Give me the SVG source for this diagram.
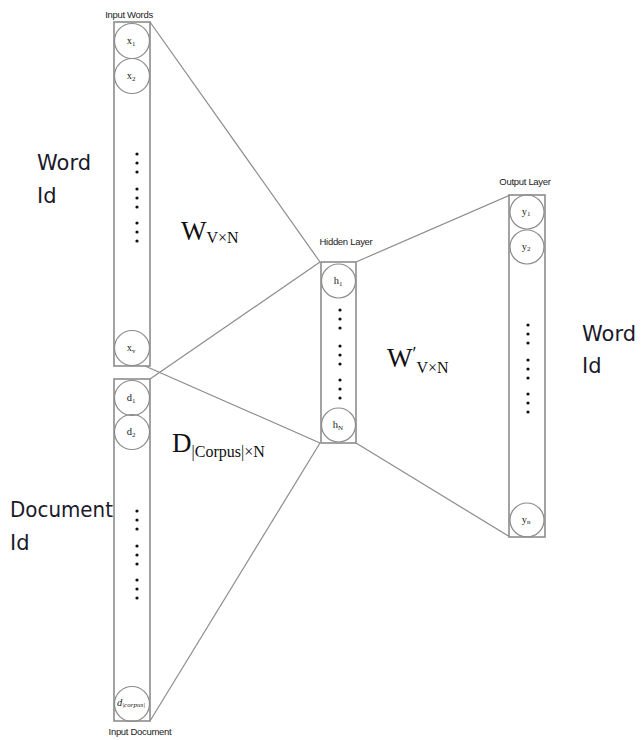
<svg xmlns="http://www.w3.org/2000/svg" width="642" height="740" viewBox="0 0 642 740">
<style>
.box{fill:none;stroke:#8c8c8c;stroke-width:1.6}
.cir{fill:none;stroke:#8c8c8c;stroke-width:1.2}
.ln{stroke:#8c8c8c;stroke-width:1.2;fill:none}
.sm{font-family:"Liberation Sans",Arial,sans-serif;font-size:9.5px;fill:#222;text-anchor:middle;letter-spacing:-0.3px}
.nd{font-family:"Liberation Serif","Times New Roman",serif;font-size:10.5px;fill:#222;text-anchor:middle}
.big{font-family:"DejaVu Sans",sans-serif;font-size:21px;fill:#1a1a2a}
.math{font-family:"Liberation Serif","Times New Roman",serif;fill:#111}
.dot{fill:#111}
</style>
<rect width="642" height="740" fill="#fff"/>
<g id="connectors">
<line class="ln" x1="150" y1="22" x2="320" y2="262"/>
<line class="ln" x1="145" y1="366" x2="320" y2="443"/>
<line class="ln" x1="150" y1="379" x2="320" y2="262"/>
<line class="ln" x1="150" y1="721" x2="320" y2="443"/>
<line class="ln" x1="356" y1="262" x2="510" y2="195"/>
<line class="ln" x1="356" y1="443" x2="510" y2="537"/>
</g>
<g id="input-words">
<text class="sm" x="129" y="18">Input Words</text>
<rect class="box" x="114" y="22" width="36" height="344"/>
<circle class="cir" cx="132" cy="41" r="17.5"/>
<text class="nd" x="131" y="44">x<tspan font-size="7" dy="2">1</tspan></text>
<circle class="cir" cx="132" cy="76" r="17.5"/>
<text class="nd" x="131" y="79">x<tspan font-size="7" dy="2">2</tspan></text>
<g class="dot">
<circle cx="137" cy="154" r="1.6"/><circle cx="137" cy="163" r="1.6"/><circle cx="137" cy="172" r="1.6"/>
<circle cx="137" cy="189" r="1.6"/><circle cx="137" cy="198" r="1.6"/><circle cx="137" cy="207" r="1.6"/>
<circle cx="137" cy="223" r="1.6"/><circle cx="137" cy="232" r="1.6"/><circle cx="137" cy="241" r="1.6"/>
</g>
<circle class="cir" cx="132" cy="348" r="17.5"/>
<text class="nd" x="131" y="351">x<tspan font-size="7" dy="2">v</tspan></text>
</g>
<g id="input-document">
<rect class="box" x="114" y="379" width="36" height="342"/>
<circle class="cir" cx="132" cy="398" r="17.5"/>
<text class="nd" x="131" y="401">d<tspan font-size="7" dy="2">1</tspan></text>
<circle class="cir" cx="132" cy="432" r="17.5"/>
<text class="nd" x="131" y="435">d<tspan font-size="7" dy="2">2</tspan></text>
<g class="dot">
<circle cx="137" cy="511" r="1.6"/><circle cx="137" cy="520" r="1.6"/><circle cx="137" cy="529" r="1.6"/>
<circle cx="137" cy="546" r="1.6"/><circle cx="137" cy="555" r="1.6"/><circle cx="137" cy="564" r="1.6"/>
<circle cx="137" cy="580" r="1.6"/><circle cx="137" cy="589" r="1.6"/><circle cx="137" cy="598" r="1.6"/>
</g>
<circle class="cir" cx="132" cy="704" r="17.5"/>
<text class="nd" x="131" y="706" font-style="italic">d<tspan font-size="7" dy="1">|corpus|</tspan></text>
<text class="sm" x="140" y="735">Input Document</text>
</g>
<g id="hidden-layer">
<text class="sm" x="346" y="245">Hidden Layer</text>
<rect class="box" x="321" y="262" width="35" height="181"/>
<circle class="cir" cx="338.5" cy="281" r="17"/>
<text class="nd" x="338" y="284">h<tspan font-size="7" dy="2">1</tspan></text>
<g class="dot">
<circle cx="340" cy="310" r="1.6"/><circle cx="340" cy="319" r="1.6"/><circle cx="340" cy="328" r="1.6"/>
<circle cx="340" cy="346" r="1.6"/><circle cx="340" cy="355" r="1.6"/><circle cx="340" cy="364" r="1.6"/>
<circle cx="340" cy="380" r="1.6"/><circle cx="340" cy="389" r="1.6"/><circle cx="340" cy="398" r="1.6"/>
</g>
<circle class="cir" cx="338.5" cy="425" r="17"/>
<text class="nd" x="338" y="428">h<tspan font-size="7" dy="2">N</tspan></text>
</g>
<g id="output-layer">
<text class="sm" x="525" y="185">Output Layer</text>
<rect class="box" x="509" y="195" width="36" height="342"/>
<circle class="cir" cx="527" cy="212" r="17"/>
<text class="nd" x="526" y="215">y<tspan font-size="7" dy="1">1</tspan></text>
<circle class="cir" cx="527" cy="247" r="17"/>
<text class="nd" x="526" y="250">y<tspan font-size="7" dy="1">2</tspan></text>
<g class="dot">
<circle cx="528" cy="325" r="1.6"/><circle cx="528" cy="334" r="1.6"/><circle cx="528" cy="343" r="1.6"/>
<circle cx="528" cy="360" r="1.6"/><circle cx="528" cy="369" r="1.6"/><circle cx="528" cy="378" r="1.6"/>
<circle cx="528" cy="394" r="1.6"/><circle cx="528" cy="403" r="1.6"/><circle cx="528" cy="412" r="1.6"/>
</g>
<circle class="cir" cx="527" cy="520" r="17"/>
<text class="nd" x="526" y="523">y<tspan font-size="7" dy="1">n</tspan></text>
</g>
<g id="labels">
<text class="big" x="37" y="170">Word</text>
<text class="big" x="37" y="203">Id</text>
<text class="big" x="10" y="517" textLength="103" lengthAdjust="spacingAndGlyphs">Document</text>
<text class="big" x="10" y="550">Id</text>
<text class="big" x="582" y="341">Word</text>
<text class="big" x="582" y="373">Id</text>
<text class="math" x="181" y="240" font-size="27">W<tspan font-size="16" dy="3">V×N</tspan></text>
<text class="math" x="387" y="367" font-size="27">W<tspan font-size="18" dy="-7">′</tspan><tspan font-size="16" dy="13">V×N</tspan></text>
<text class="math" x="172" y="452" font-size="27">D<tspan font-size="16" dy="5">|Corpus|×N</tspan></text>
</g>
</svg>
